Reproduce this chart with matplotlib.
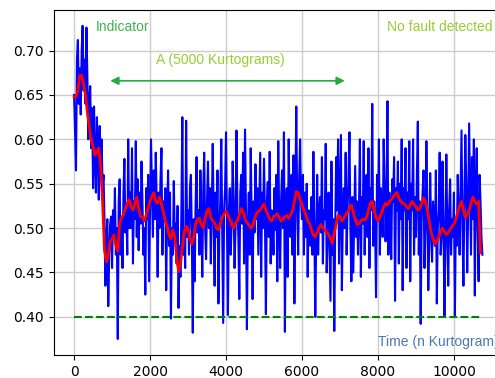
import matplotlib
matplotlib.use('Agg')
import matplotlib.pyplot as plt

# blue: raw indicator, one value every 25 kurtograms (rows of 500)
step_raw = 25
raw = [
    0.650, 0.610, 0.565, 0.690, 0.712, 0.640, 0.680, 0.628, 0.700, 0.728, 0.655, 0.690, 0.640, 0.726, 0.670, 0.600, 0.645, 0.660, 0.590, 0.635,
    0.545, 0.637, 0.575, 0.540, 0.625, 0.590, 0.532, 0.615, 0.570, 0.600, 0.545, 0.560, 0.510, 0.435, 0.490, 0.510, 0.412, 0.470, 0.505, 0.513,
    0.455, 0.520, 0.490, 0.545, 0.470, 0.500, 0.375, 0.530, 0.555, 0.470, 0.510, 0.455, 0.540, 0.578, 0.495, 0.520, 0.470, 0.600, 0.500, 0.540,
    0.500, 0.590, 0.460, 0.530, 0.510, 0.598, 0.490, 0.555, 0.475, 0.540, 0.505, 0.575, 0.530, 0.470, 0.500, 0.425, 0.545, 0.510, 0.560, 0.440,
    0.520, 0.600, 0.545, 0.490, 0.565, 0.510, 0.585, 0.530, 0.445, 0.540, 0.500, 0.555, 0.590, 0.470, 0.530, 0.510, 0.545, 0.430, 0.520, 0.565,
    0.480, 0.540, 0.398, 0.500, 0.470, 0.553, 0.490, 0.505, 0.460, 0.525, 0.410, 0.480, 0.445, 0.520, 0.625, 0.470, 0.500, 0.455, 0.621, 0.490,
    0.520, 0.470, 0.545, 0.560, 0.490, 0.382, 0.510, 0.440, 0.530, 0.580, 0.495, 0.520, 0.470, 0.565, 0.510, 0.445, 0.540, 0.585, 0.500, 0.465,
    0.530, 0.575, 0.500, 0.545, 0.460, 0.520, 0.595, 0.510, 0.435, 0.540, 0.490, 0.565, 0.415, 0.500, 0.530, 0.600, 0.495, 0.393, 0.520, 0.545,
    0.608, 0.500, 0.402, 0.520, 0.545, 0.470, 0.510, 0.575, 0.530, 0.455, 0.500, 0.610, 0.525, 0.490, 0.420, 0.540, 0.560, 0.505, 0.585, 0.460,
    0.611, 0.520, 0.386, 0.500, 0.540, 0.470, 0.590, 0.515, 0.420, 0.530, 0.495, 0.572, 0.510, 0.545, 0.470, 0.525, 0.585, 0.445, 0.540, 0.500,
    0.578, 0.510, 0.403, 0.530, 0.552, 0.490, 0.586, 0.460, 0.520, 0.505, 0.470, 0.545, 0.498, 0.560, 0.440, 0.598, 0.510, 0.455, 0.530, 0.565,
    0.500, 0.608, 0.383, 0.520, 0.545, 0.445, 0.600, 0.510, 0.490, 0.560, 0.470, 0.582, 0.415, 0.540, 0.637, 0.520, 0.470, 0.555, 0.600, 0.530,
    0.510, 0.560, 0.470, 0.540, 0.490, 0.550, 0.445, 0.520, 0.505, 0.480, 0.535, 0.470, 0.586, 0.500, 0.400, 0.490, 0.560, 0.470, 0.515, 0.535,
    0.495, 0.580, 0.460, 0.520, 0.510, 0.595, 0.450, 0.490, 0.540, 0.480, 0.418, 0.575, 0.470, 0.510, 0.384, 0.500, 0.580, 0.520, 0.600, 0.460,
    0.530, 0.605, 0.430, 0.510, 0.545, 0.500, 0.585, 0.470, 0.520, 0.560, 0.608, 0.500, 0.440, 0.535, 0.450, 0.510, 0.570, 0.490, 0.530, 0.470,
    0.520, 0.600, 0.445, 0.535, 0.505, 0.598, 0.470, 0.525, 0.560, 0.490, 0.590, 0.455, 0.545, 0.520, 0.640, 0.480, 0.530, 0.500, 0.422, 0.560,
    0.510, 0.600, 0.470, 0.545, 0.525, 0.490, 0.600, 0.550, 0.485, 0.530, 0.643, 0.470, 0.540, 0.510, 0.465, 0.555, 0.530, 0.580, 0.418, 0.545,
    0.520, 0.575, 0.460, 0.550, 0.510, 0.600, 0.430, 0.545, 0.520, 0.590, 0.455, 0.540, 0.510, 0.598, 0.440, 0.550, 0.520, 0.600, 0.470, 0.535,
    0.490, 0.560, 0.620, 0.470, 0.530, 0.392, 0.510, 0.540, 0.565, 0.455, 0.500, 0.598, 0.520, 0.430, 0.480, 0.562, 0.500, 0.462, 0.530, 0.510,
    0.480, 0.565, 0.415, 0.500, 0.520, 0.585, 0.470, 0.490, 0.575, 0.510, 0.400, 0.480, 0.583, 0.500, 0.435, 0.520, 0.555, 0.470, 0.510, 0.490,
    0.540, 0.400, 0.510, 0.480, 0.560, 0.520, 0.470, 0.540, 0.610, 0.500, 0.435, 0.530, 0.605, 0.550, 0.450, 0.520, 0.618, 0.540, 0.470, 0.580,
    0.510, 0.600, 0.424, 0.540, 0.590, 0.500, 0.440, 0.560, 0.530, 0.490, 0.470,
]

# red: moving average, one value every 50 kurtograms (rows of 1000)
step_avg = 50
avg = [
    0.648, 0.648, 0.655, 0.672, 0.672, 0.662, 0.650, 0.630, 0.615, 0.600, 0.592, 0.582, 0.585, 0.590, 0.570, 0.530, 0.475, 0.462, 0.470, 0.485,
    0.488, 0.492, 0.480, 0.474, 0.505, 0.512, 0.515, 0.522, 0.528, 0.532, 0.524, 0.520, 0.527, 0.535, 0.522, 0.513, 0.512, 0.508, 0.515, 0.522,
    0.530, 0.536, 0.540, 0.530, 0.528, 0.535, 0.527, 0.518, 0.508, 0.502, 0.492, 0.488, 0.498, 0.490, 0.467, 0.451, 0.460, 0.478, 0.495, 0.502,
    0.500, 0.488, 0.482, 0.490, 0.505, 0.510, 0.511, 0.504, 0.500, 0.510, 0.520, 0.522, 0.512, 0.508, 0.506, 0.500, 0.498, 0.505, 0.512, 0.516,
    0.519, 0.515, 0.510, 0.503, 0.500, 0.506, 0.508, 0.515, 0.522, 0.518, 0.510, 0.506, 0.504, 0.500, 0.502, 0.510, 0.516, 0.519, 0.520, 0.524,
    0.527, 0.520, 0.515, 0.510, 0.508, 0.513, 0.514, 0.516, 0.512, 0.508, 0.510, 0.513, 0.514, 0.511, 0.515, 0.520, 0.530, 0.541, 0.540, 0.532,
    0.527, 0.520, 0.515, 0.508, 0.505, 0.498, 0.492, 0.490, 0.495, 0.500, 0.504, 0.500, 0.498, 0.495, 0.493, 0.488, 0.483, 0.495, 0.505, 0.514,
    0.513, 0.508, 0.511, 0.515, 0.518, 0.522, 0.526, 0.518, 0.510, 0.504, 0.505, 0.508, 0.510, 0.509, 0.512, 0.520, 0.528, 0.530, 0.520, 0.512,
    0.508, 0.512, 0.518, 0.524, 0.528, 0.526, 0.530, 0.532, 0.535, 0.538, 0.540, 0.534, 0.530, 0.528, 0.527, 0.524, 0.522, 0.526, 0.530, 0.527,
    0.524, 0.520, 0.522, 0.528, 0.534, 0.530, 0.520, 0.508, 0.495, 0.488, 0.482, 0.485, 0.490, 0.496, 0.500, 0.496, 0.493, 0.495, 0.498, 0.502,
    0.504, 0.510, 0.518, 0.525, 0.530, 0.520, 0.512, 0.515, 0.520, 0.528, 0.535, 0.530, 0.527, 0.530, 0.472,
]

threshold = 0.40
x_raw = [i * step_raw for i in range(len(raw))]
x_avg = [i * step_avg for i in range(len(avg))]

fig = plt.figure(figsize=(4.95, 3.78), dpi=100)
ax = fig.add_axes([0.109, 0.061, 0.907, 0.913])

ax.plot(x_raw, raw, color='blue', lw=1.5)
ax.plot(x_avg, avg, color='red', lw=2)
ax.plot([0, x_raw[-1]], [threshold, threshold], color='green', ls='--', lw=1.5)

ax.set_xlim(-530, 11290)
ax.set_ylim(0.357, 0.746)
ax.set_xticks([0, 2000, 4000, 6000, 8000, 10000])
ax.set_yticks([0.40, 0.45, 0.50, 0.55, 0.60, 0.65, 0.70])
ax.grid(True, color='#cccccc', lw=1)
ax.set_axisbelow(True)
ax.tick_params(labelsize=10)

font = 'Liberation Sans'
ax.text(580, 0.727, 'Indicator', color='#3cb44b', fontsize=10, family=font, va='center')
ax.text(8240, 0.727, 'No fault detected', color='#9acd32', fontsize=10, family=font, va='center')
ax.text(2160, 0.689, 'A (5000 Kurtograms)', color='#9acd32', fontsize=10, family=font, va='center')
ax.text(8000, 0.372, 'Time (n Kurtogram)', color='#4a78b0', fontsize=10, family=font, va='center')
ax.annotate('', xy=(7200, 0.666), xytext=(880, 0.666),
            arrowprops=dict(arrowstyle='<|-|>', color='#22aa44', lw=1.2, mutation_scale=12))

fig.savefig('out.png', dpi=100)
